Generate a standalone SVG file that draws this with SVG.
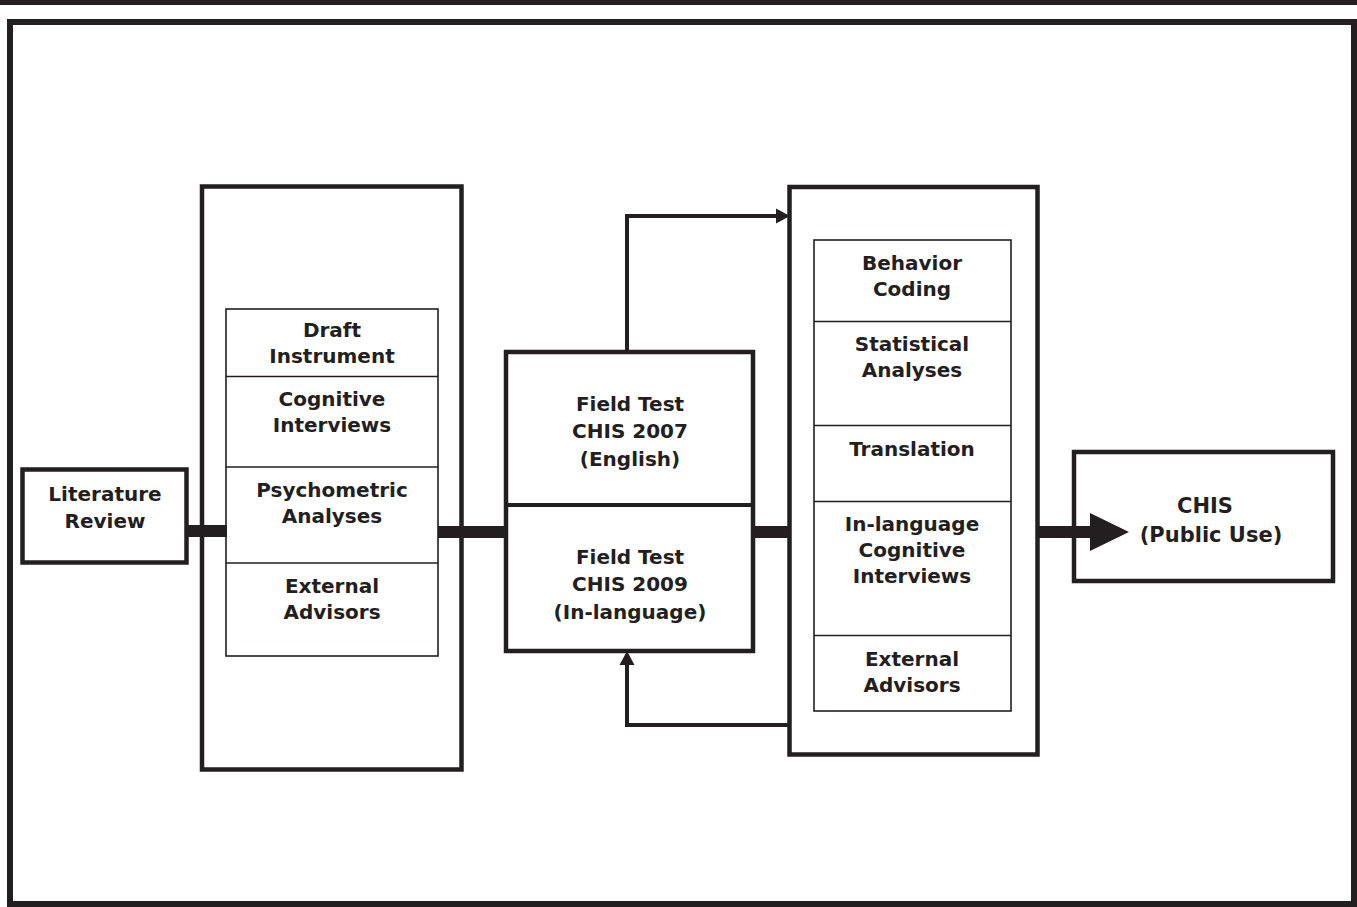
<svg xmlns="http://www.w3.org/2000/svg" width="1357" height="907" viewBox="0 0 1357 907">
<style>
.bg{fill:#ffffff}
.frame{fill:none;stroke:#231f20;stroke-width:6}
.box{fill:#ffffff;stroke:#231f20;stroke-width:4.5}
.thin{fill:#ffffff;stroke:#231f20;stroke-width:1.6}
.div{stroke:#231f20;stroke-width:1.6}
.thick{stroke:#231f20;stroke-width:12;fill:none}
.line{stroke:#231f20;stroke-width:4;fill:none}
.head{fill:#231f20}
text{font-family:"DejaVu Sans","Verdana",sans-serif;font-weight:bold;font-size:20px;fill:#231f20;text-anchor:middle}
.big{font-size:21px}
</style>
<rect class="bg" x="0" y="0" width="1357" height="907"/>
<rect x="0" y="0" width="1357" height="5" fill="#231f20"/>
<rect class="frame" x="10" y="22" width="1344" height="882"/>

<g id="literature-review">
<rect class="box" x="22.5" y="469.5" width="164" height="93"/>
<text x="105" y="501">Literature</text>
<text x="105" y="528">Review</text>
</g>

<g id="development">
<rect class="box" x="202" y="186.5" width="259.5" height="583"/>
</g>
<g id="development-list">
<rect class="thin" x="226" y="309" width="212" height="347"/>
<line class="div" x1="226" y1="376.5" x2="438" y2="376.5"/>
<line class="div" x1="226" y1="467" x2="438" y2="467"/>
<line class="div" x1="226" y1="563" x2="438" y2="563"/>
<text x="332" y="337">Draft</text>
<text x="332" y="363">Instrument</text>
<text x="332" y="406">Cognitive</text>
<text x="332" y="432">Interviews</text>
<text x="332" y="497">Psychometric</text>
<text x="332" y="523">Analyses</text>
<text x="332" y="593">External</text>
<text x="332" y="619">Advisors</text>
</g>

<g id="field-tests">
<rect class="box" x="506" y="352" width="247" height="299"/>
<line x1="506" y1="505" x2="753" y2="505" stroke="#231f20" stroke-width="4"/>
<text x="630" y="411">Field Test</text>
<text x="630" y="438">CHIS 2007</text>
<text x="630" y="466">(English)</text>
<text x="630" y="564">Field Test</text>
<text x="630" y="591">CHIS 2009</text>
<text x="630" y="619">(In-language)</text>
</g>

<g id="evaluation">
<rect class="box" x="789.5" y="187" width="248" height="567.5"/>
</g>
<g id="evaluation-list">
<rect class="thin" x="814" y="240" width="197" height="471"/>
<line class="div" x1="814" y1="321.5" x2="1011" y2="321.5"/>
<line class="div" x1="814" y1="425.5" x2="1011" y2="425.5"/>
<line class="div" x1="814" y1="501.5" x2="1011" y2="501.5"/>
<line class="div" x1="814" y1="635.5" x2="1011" y2="635.5"/>
<text x="912" y="270">Behavior</text>
<text x="912" y="296">Coding</text>
<text x="912" y="351">Statistical</text>
<text x="912" y="377">Analyses</text>
<text x="912" y="456">Translation</text>
<text x="912" y="531">In-language</text>
<text x="912" y="557">Cognitive</text>
<text x="912" y="583">Interviews</text>
<text x="912" y="666">External</text>
<text x="912" y="692">Advisors</text>
</g>

<g id="chis-public-use">
<rect class="box" x="1074" y="452" width="259" height="129"/>
<text class="big" x="1205" y="513">CHIS</text>
<text class="big" x="1211" y="542">(Public Use)</text>
</g>

<g id="connectors">
<line class="thick" x1="187" y1="531" x2="227" y2="531"/>
<line class="thick" x1="438" y1="532" x2="506" y2="532"/>
<line class="thick" x1="754" y1="532" x2="789" y2="532"/>
<line class="thick" x1="1038" y1="532" x2="1092" y2="532"/>
<path class="head" d="M1090,513 L1129,532 L1090,551 Z"/>
<polyline class="line" points="627,350 627,216 777,216"/>
<path class="head" d="M776,208.5 L790,216 L776,223.5 Z"/>
<polyline class="line" points="789,725 627,725 627,664"/>
<path class="head" d="M619.5,665 L627,651 L634.5,665 Z"/>
</g>
</svg>
